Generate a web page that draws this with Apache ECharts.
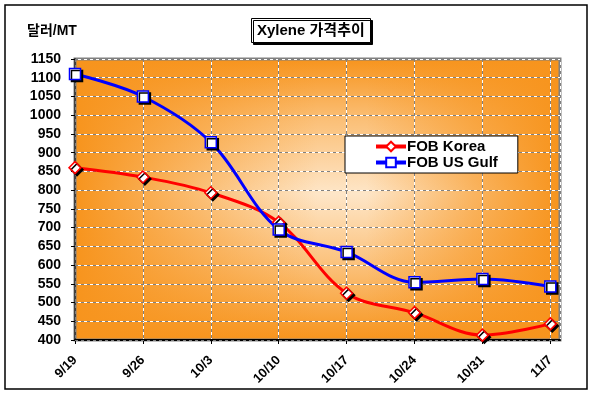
<!DOCTYPE html>
<html><head><meta charset="utf-8">
<script src="https://cdn.jsdelivr.net/npm/echarts@6/dist/echarts.min.js"></script>
<style>html,body{margin:0;padding:0;background:#fff}#c{width:593px;height:394px}</style>
</head><body><div id="c"></div>
<script>
var categories = ['9/19','9/26','10/3','10/10','10/17','10/24','10/31','11/7'];
var fobKorea = [860, 835, 793, 714, 525, 473, 413, 443];
var fobUSGulf = [1110, 1050, 928, 695, 635, 554, 563, 543];
var seriesNames = ['FOB Korea', 'FOB US Gulf'];
var yTicks = {min: 400, max: 1150, step: 50};
var daysPerCategory = 7;

var FONT = '"Liberation Sans", Arial, "Noto Sans CJK KR", sans-serif';
var chart = echarts.init(document.getElementById('c'));
var G = {left: 75, top: 59, right: 560, bottom: 340};
var orange = '#F7941D', mid = '#FBC078', light = '#FEE6C8';
var xMax = (categories.length - 1) * daysPerCategory + 1;

function xAxisCfg(idx) {
  var base = {type: 'value', min: 0, max: xMax, interval: daysPerCategory, gridIndex: 0};
  if (idx === 0) {
    return Object.assign(base, {
      position: 'bottom',
      axisLine: {show: true, lineStyle: {color: '#000', width: 2}},
      axisTick: {show: true, length: 4, lineStyle: {color: '#000'}},
      axisLabel: {
        rotate: 45, margin: 18, color: '#000', fontFamily: FONT, fontWeight: 'bold', fontSize: 13,
        showMaxLabel: false,
        formatter: function (v) { var i = v / daysPerCategory; return (i === Math.round(i) && categories[i]) ? categories[i] : ''; }
      },
      splitLine: {show: true, lineStyle: {color: '#ffffff', width: 1, type: 'solid'}}
    });
  }
  return Object.assign(base, {
    position: 'top', z: 1,
    axisLine: {show: false}, axisTick: {show: false}, axisLabel: {show: false},
    splitLine: {show: true, lineStyle: {color: '#808080', width: 1, type: [3, 3]}}
  });
}
function yAxisCfg(idx) {
  var base = {type: 'value', min: yTicks.min, max: yTicks.max, interval: yTicks.step, gridIndex: 0};
  if (idx === 0) {
    return Object.assign(base, {
      position: 'left',
      axisLine: {show: true, lineStyle: {color: '#404040', width: 2}},
      axisTick: {show: true, length: 4, lineStyle: {color: '#000'}},
      axisLabel: {color: '#000', fontFamily: FONT, fontWeight: 'bold', fontSize: 14, margin: 14,
        formatter: function (v) { return String(v); }},
      splitLine: {show: true, lineStyle: {color: '#ffffff', width: 1, type: 'solid'}}
    });
  }
  return Object.assign(base, {
    position: 'right', z: 1,
    axisLine: {show: false}, axisTick: {show: false}, axisLabel: {show: false},
    splitLine: {show: true, lineStyle: {color: '#808080', width: 1, type: [3, 3]}}
  });
}

function mkSeries(name, vals, color, symbol, size) {
  return {
    name: name, type: 'line', smooth: 0.35, xAxisIndex: 0, yAxisIndex: 0, z: 5,
    data: vals.map(function (v, i) { return [i * daysPerCategory, v]; }),
    symbol: symbol, symbolSize: size, showAllSymbol: true,
    lineStyle: {color: color, width: 3},
    itemStyle: {color: '#fff', borderColor: color, borderWidth: 1.5,
      shadowColor: '#000', shadowBlur: 0, shadowOffsetX: 2, shadowOffsetY: 2},
    emphasis: {disabled: true}
  };
}

chart.setOption({
  animation: false,
  backgroundColor: '#fff',
  title: [{
    text: 'Xylene 가격추이', left: 251, top: 18, padding: [5, 6, 5, 6],
    backgroundColor: '#fff', borderColor: '#000', borderWidth: 1,
    shadowColor: '#000', shadowBlur: 0, shadowOffsetX: 2, shadowOffsetY: 2,
    textStyle: {fontFamily: FONT, fontWeight: 'bold', fontSize: 15, color: '#000'}
  }, {
    text: '달러/MT', left: 27, top: 24, padding: 0,
    textStyle: {fontFamily: FONT, fontWeight: 'bold', fontSize: 14, color: '#000'}
  }],
  legend: {
    data: seriesNames, orient: 'vertical', left: 345, top: 136,
    padding: [3, 20, 3, 29], itemGap: 1, itemWidth: 30, itemHeight: 12,
    backgroundColor: '#fff', borderColor: '#000', borderWidth: 1,
    lineStyle: {width: 4},
    textStyle: {fontFamily: FONT, fontWeight: 'bold', fontSize: 15, color: '#000', padding: [0, 0, 0, -4]}
  },
  grid: {left: G.left, top: G.top, width: G.right - G.left, height: G.bottom - G.top,
    show: true, borderColor: '#808080', borderWidth: 3, backgroundColor: 'transparent'},
  xAxis: [xAxisCfg(0), xAxisCfg(1)],
  yAxis: [yAxisCfg(0), yAxisCfg(1)],
  graphic: [
    {type: 'rect', z: -20, silent: true,
     shape: {x: G.left, y: G.top, width: G.right - G.left, height: G.bottom - G.top},
     style: {fill: new echarts.graphic.LinearGradient(0, 0, 0, 1, [
       {offset: 0, color: orange}, {offset: 0.22, color: mid}, {offset: 0.48, color: light},
       {offset: 0.74, color: mid}, {offset: 1, color: orange}])}},
    {type: 'rect', z: -19, silent: true,
     shape: {x: G.left, y: G.top, width: G.right - G.left, height: G.bottom - G.top},
     style: {fill: new echarts.graphic.LinearGradient(0, 0, 1, 0, [
       {offset: 0, color: 'rgba(247,148,29,1)'}, {offset: 0.2, color: 'rgba(247,148,29,0.6)'},
       {offset: 0.5, color: 'rgba(247,148,29,0)'}, {offset: 0.6, color: 'rgba(247,148,29,0)'},
       {offset: 0.82, color: 'rgba(247,148,29,0.6)'}, {offset: 1, color: 'rgba(247,148,29,1)'}])}},
    {type: 'rect', z: 100, silent: true,
     shape: {x: 5, y: 5, width: 582, height: 384},
     style: {fill: 'none', stroke: '#000', lineWidth: 1.5}}
  ],
  series: [
    mkSeries(seriesNames[0], fobKorea, '#FF0000', 'diamond', 12),
    mkSeries(seriesNames[1], fobUSGulf, '#0000FF', 'rect', 11)
  ]
});
</script></body></html>
